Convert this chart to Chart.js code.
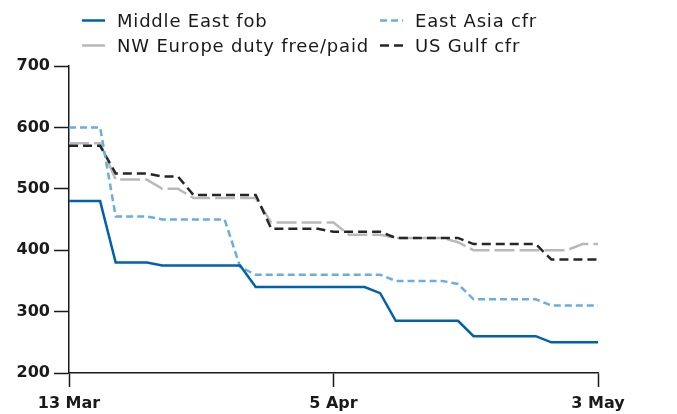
<!DOCTYPE html>
<html>
<head>
<meta charset="utf-8">
<script src="https://cdn.jsdelivr.net/npm/chart.js@4/dist/chart.umd.min.js"></script>
<style>
  html, body { margin: 0; padding: 0; background: #fff; }
  #wrap { position: relative; width: 677px; height: 414px; }
  canvas { position: absolute; left: 0; top: 0; }
  .leg { position: absolute; font-family: "DejaVu Sans", sans-serif; font-size: 18px; letter-spacing: 0.8px; color: #1a1a1a; white-space: nowrap; line-height: 20px; }
  .leg svg { position: absolute; left: 0; top: 0; }
  .leg span { position: absolute; top: 0; }
</style>
</head>
<body>
<div id="wrap">
  <canvas id="c" width="677" height="414"></canvas>
  <div id="legend"></div>
</div>
<script>
// Dates (category labels)
const dates = ['13 Mar','14 Mar','16 Mar','17 Mar','18 Mar','19 Mar','20 Mar','23 Mar','24 Mar','25 Mar',
  '26 Mar','27 Mar','30 Mar','31 Mar','1 Apr','2 Apr','3 Apr','5 Apr',
  '7 Apr','8 Apr','9 Apr','14 Apr','15 Apr','16 Apr','17 Apr','20 Apr','21 Apr','22 Apr',
  '23 Apr','24 Apr','27 Apr','28 Apr','29 Apr','30 Apr','3 May'];
const shownTicks = ['13 Mar','5 Apr','3 May'];
const yTicks = [200, 300, 400, 500, 600, 700];

const middleEastFob = [480,480,480,380,380,380,375,375,375,375,375,375,340,340,340,340,340,340,340,340,330,285,285,285,285,285,260,260,260,260,260,250,250,250,250];
const eastAsiaCfr   = [600,600,600,455,455,455,450,450,450,450,450,373,360,360,360,360,360,360,360,360,360,350,350,350,350,345,320,320,320,320,320,310,310,310,310];
const nwEuropeDfp   = [574,574,574,515,515,515,500,500,485,485,485,485,485,445,445,445,445,445,425,425,425,420,420,420,420,413,400,400,400,400,400,400,400,410,410];
const usGulfCfr     = [570,570,570,525,525,525,520,520,490,490,490,490,490,435,435,435,435,430,430,430,430,420,420,420,420,420,410,410,410,410,410,385,385,385,385];

const series = [
  { label: 'Middle East fob', data: middleEastFob, color: '#0061ad', dash: [], width: 2.5 },
  { label: 'East Asia cfr', data: eastAsiaCfr, color: '#6aade1', dash: [7,4], width: 2.5 },
  { label: 'NW Europe duty free/paid', data: nwEuropeDfp, color: '#b9b9b9', dash: [20,5], width: 2.5 },
  { label: 'US Gulf cfr', data: usGulfCfr, color: '#262626', dash: [9,5], width: 2.5 }
];

const drawOrder = [2, 3, 1, 0]; // grey, black, light blue, dark blue on top

const tickFont = { family: 'DejaVu Sans', size: 16, weight: 'bold' };

const chart = new Chart(document.getElementById('c'), {
  type: 'line',
  data: {
    labels: dates,
    datasets: series.map((s, i) => ({
      label: s.label,
      data: s.data,
      borderColor: s.color,
      backgroundColor: s.color,
      borderDash: s.dash,
      borderWidth: s.width,
      pointRadius: 0,
      tension: 0,
      fill: false,
      order: 3 - drawOrder.indexOf(i)
    }))
  },
  options: {
    responsive: false,
    animation: false,
    devicePixelRatio: 1,
    layout: { padding: { top: 66, right: 79, left: 0, bottom: 0 } },
    plugins: { legend: { display: false }, tooltip: { enabled: false } },
    scales: {
      x: {
        type: 'category',
        offset: false,
        border: { display: true, color: '#1a1a1a', width: 1.5 },
        grid: {
          drawOnChartArea: false,
          drawTicks: true,
          tickLength: 14,
          tickWidth: 1.5,
          color: (ctx) => shownTicks.includes(dates[ctx.index]) ? '#1a1a1a' : 'rgba(0,0,0,0)'
        },
        ticks: {
          autoSkip: false,
          maxRotation: 0,
          padding: 7,
          color: '#1a1a1a',
          font: tickFont,
          callback: (v, i) => shownTicks.includes(dates[i]) ? dates[i] : ''
        },
        afterFit: (s) => { s.height = 41; }
      },
      y: {
        min: yTicks[0],
        max: yTicks[yTicks.length - 1],
        border: { display: true, color: '#1a1a1a', width: 1.5 },
        grid: { drawOnChartArea: false, drawTicks: true, tickLength: 15, tickWidth: 1.5, color: '#1a1a1a' },
        afterBuildTicks: (s) => { s.ticks = yTicks.map(v => ({ value: v })); },
        ticks: { padding: 4, color: '#1a1a1a', font: tickFont },
        afterFit: (s) => { s.width = 69; }
      }
    }
  }
});

// HTML legend in a 2x2 grid built from the datasets
const legendPos = [
  { x: 82, y: 11 },   // Middle East fob
  { x: 380, y: 11 },  // East Asia cfr
  { x: 82, y: 36 },   // NW Europe
  { x: 380, y: 36 }   // US Gulf
];
const legendEl = document.getElementById('legend');
chart.data.datasets.forEach((ds, i) => {
  const p = legendPos[i];
  const item = document.createElement('div');
  item.className = 'leg';
  item.style.left = p.x + 'px';
  item.style.top = p.y + 'px';
  let dashAttr = ds.borderDash.length ? ` stroke-dasharray="${ds.borderDash.join(',')}"` : '';
  if (i === 2) dashAttr = '';
  item.innerHTML = `<svg width="24" height="20"><line x1="0" y1="9.5" x2="23" y2="9.5" stroke="${ds.borderColor}" stroke-width="2.5"${dashAttr}/></svg><span style="left:35px">${ds.label}</span>`;
  legendEl.appendChild(item);
});
</script>
</body>
</html>
